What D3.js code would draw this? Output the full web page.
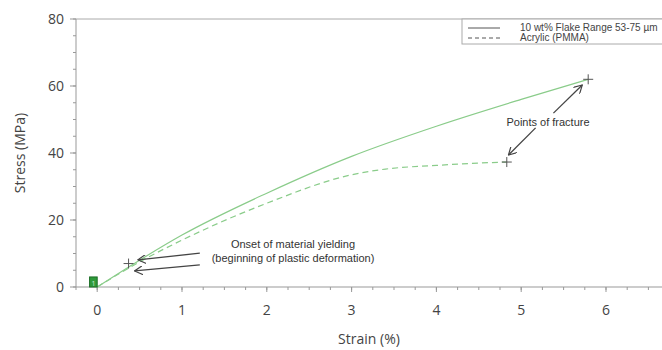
<!DOCTYPE html>
<html>
<head>
<meta charset="utf-8">
<script src="https://cdn.jsdelivr.net/npm/d3@7"></script>
<style>
  body { margin: 0; background: #fff; }
  svg { display: block; }
</style>
</head>
<body>
<div id="plot"></div>
<script>
var flakeStrain = [0, 0.5, 1, 2, 3, 4, 5, 5.79];
var flakeStress = [0, 8, 15.5, 28, 39, 48, 56, 62];
var pmmaStrain = [0, 0.5, 1, 2, 3, 3.4, 4, 4.5, 4.83];
var pmmaStress = [0, 7.5, 14, 25, 33.5, 35.2, 36.3, 37, 37.3];
var yieldPoint = [0.37, 7];
var yTicks = [0, 20, 40, 60, 80];
var xTicks = [0, 1, 2, 3, 4, 5, 6];
var legendLabels = ["10 wt% Flake Range 53-75 \u00b5m", "Acrylic (PMMA)"];
// annotation arrows, in data units: [x1, y1, x2, y2]
var yieldArrows = [[1.21, 10.1, 0.48, 8.1], [1.21, 6.6, 0.44, 4.8]];
var fractureArrows = [[5.38, 51.9, 5.72, 60.3], [5.17, 47.5, 4.85, 39.4]];

window.addEventListener('load', main);

function main(){
  var W = 662, H = 350;
  var x = d3.scaleLinear().domain([-0.25, 6.75]).range([76, 76 + 7 * 84.8]);
  var y = d3.scaleLinear().domain([0, 80]).range([287, 19]);

  var svg = d3.select('#plot').append('svg')
    .attr('width', W).attr('height', H)
    .style('font-family', '"Open Sans", sans-serif');

  var defs = svg.append('defs');
  defs.append('marker')
    .attr('id', 'head')
    .attr('viewBox', '0 0 10 10')
    .attr('refX', 9).attr('refY', 5)
    .attr('markerWidth', 9).attr('markerHeight', 9)
    .attr('markerUnits', 'userSpaceOnUse')
    .attr('orient', 'auto')
    .append('path')
      .attr('d', 'M0,0 L9,5 L0,10')
      .attr('fill', 'none')
      .attr('stroke', '#444')
      .attr('stroke-width', 1.3);

  // frame: top border and axes
  svg.append('line')
    .attr('x1', 76).attr('x2', W).attr('y1', y(80)).attr('y2', y(80))
    .attr('stroke', '#aaa');

  var yAxis = svg.append('g').attr('transform', 'translate(76,0)');
  yAxis.append('line').attr('y1', y(80)).attr('y2', y(0)).attr('stroke', '#999');
  yAxis.selectAll('.minor').data(d3.range(0, 81, 5))
    .join('line')
      .attr('x1', -3).attr('x2', 0)
      .attr('y1', d => y(d)).attr('y2', d => y(d))
      .attr('stroke', '#999');
  yAxis.selectAll('.major').data(yTicks)
    .join('line')
      .attr('x1', -6).attr('x2', 0)
      .attr('y1', d => y(d)).attr('y2', d => y(d))
      .attr('stroke', '#999');
  yAxis.selectAll('text').data(yTicks)
    .join('text')
      .attr('x', -12).attr('y', d => y(d) + 5)
      .attr('text-anchor', 'end')
      .attr('font-size', 14).attr('fill', '#444')
      .text(d => d);

  var xAxis = svg.append('g');
  xAxis.append('line').attr('x1', 76).attr('x2', W)
    .attr('y1', y(0)).attr('y2', y(0)).attr('stroke', '#999');
  xAxis.selectAll('.minor').data(d3.range(-0.25, 6.76, 0.25))
    .join('line')
      .attr('x1', d => x(d)).attr('x2', d => x(d))
      .attr('y1', y(0)).attr('y2', y(0) + 3)
      .attr('stroke', '#999');
  xAxis.selectAll('.major').data(xTicks)
    .join('line')
      .attr('x1', d => x(d)).attr('x2', d => x(d))
      .attr('y1', y(0)).attr('y2', y(0) + 5)
      .attr('stroke', '#999');
  xAxis.selectAll('text').data(xTicks)
    .join('text')
      .attr('x', d => x(d)).attr('y', 315)
      .attr('text-anchor', 'middle')
      .attr('font-size', 14).attr('fill', '#444')
      .text(d => d);

  svg.append('text')
    .attr('transform', 'translate(25,' + y(40) + ') rotate(-90)')
    .attr('text-anchor', 'middle')
    .attr('font-size', 14).attr('fill', '#444')
    .text('Stress (MPa)');
  svg.append('text')
    .attr('x', 369).attr('y', 344)
    .attr('text-anchor', 'middle')
    .attr('font-size', 14).attr('fill', '#444')
    .text('Strain (%)');

  // curves
  var line = d3.line().x(d => x(d[0])).y(d => y(d[1])).curve(d3.curveMonotoneX);
  var flake = d3.zip(flakeStrain, flakeStress);
  var pmma = d3.zip(pmmaStrain, pmmaStress);

  svg.append('path').datum(flake)
    .attr('d', line).attr('fill', 'none')
    .attr('stroke', '#8acc8a').attr('stroke-width', 1.2);
  svg.append('path').datum(pmma)
    .attr('d', line).attr('fill', 'none')
    .attr('stroke', '#8acc8a').attr('stroke-width', 1.2)
    .attr('stroke-dasharray', '6,4');

  // the little green box at the origin
  svg.append('rect')
    .attr('x', x(-0.09)).attr('y', y(3))
    .attr('width', x(0) - x(-0.09)).attr('height', y(0) - y(3))
    .attr('fill', '#2e9a3a').attr('stroke', '#1d6e27');
  svg.append('text')
    .attr('x', x(-0.045)).attr('y', y(0.4))
    .attr('text-anchor', 'middle').attr('font-size', 7).attr('fill', '#cfe9cf')
    .text('1');

  // plus markers: yield and fracture points
  var plusPts = [yieldPoint,
                 [flakeStrain[flakeStrain.length - 1], flakeStress[flakeStress.length - 1]],
                 [pmmaStrain[pmmaStrain.length - 1], pmmaStress[pmmaStress.length - 1]]];
  svg.selectAll('.plus').data(plusPts)
    .join('path')
      .attr('d', d => {
        var px = x(d[0]), py = y(d[1]);
        return 'M' + (px - 5) + ',' + py + 'H' + (px + 5) + 'M' + px + ',' + (py - 5) + 'V' + (py + 5);
      })
      .attr('stroke', '#555').attr('stroke-width', 1);

  // annotations
  var arrows = yieldArrows.concat(fractureArrows);
  svg.selectAll('.arrow').data(arrows)
    .join('line')
      .attr('x1', d => x(d[0])).attr('y1', d => y(d[1]))
      .attr('x2', d => x(d[2])).attr('y2', d => y(d[3]))
      .attr('stroke', '#444').attr('stroke-width', 1.3)
      .attr('marker-end', 'url(#head)');

  var ann = svg.append('g')
    .style('font-family', '"Liberation Sans", Arial, sans-serif')
    .attr('font-size', 11).attr('fill', '#333').attr('text-anchor', 'middle');
  ann.append('text').attr('x', 293).attr('y', 248).text('Onset of material yielding');
  ann.append('text').attr('x', 293).attr('y', 262).text('(beginning of plastic deformation)');
  ann.append('text').attr('x', 548).attr('y', 126).text('Points of fracture');

  // legend
  var lg = svg.append('g');
  lg.append('rect')
    .attr('x', 462).attr('y', 19).attr('width', 230).attr('height', 25)
    .attr('fill', '#fff').attr('stroke', '#aaa');
  lg.selectAll('line').data(legendLabels)
    .join('line')
      .attr('x1', 468).attr('x2', 500)
      .attr('y1', (d, i) => 28 + i * 10).attr('y2', (d, i) => 28 + i * 10)
      .attr('stroke', '#555').attr('stroke-width', 1)
      .attr('stroke-dasharray', (d, i) => i ? '4,3' : null);
  lg.selectAll('text').data(legendLabels)
    .join('text')
      .attr('x', 520).attr('y', (d, i) => 31 + i * 10)
      .style('font-family', '"Liberation Sans", Arial, sans-serif')
      .attr('font-size', 10).attr('fill', '#444')
      .text(d => d);
}
</script>
</body>
</html>
